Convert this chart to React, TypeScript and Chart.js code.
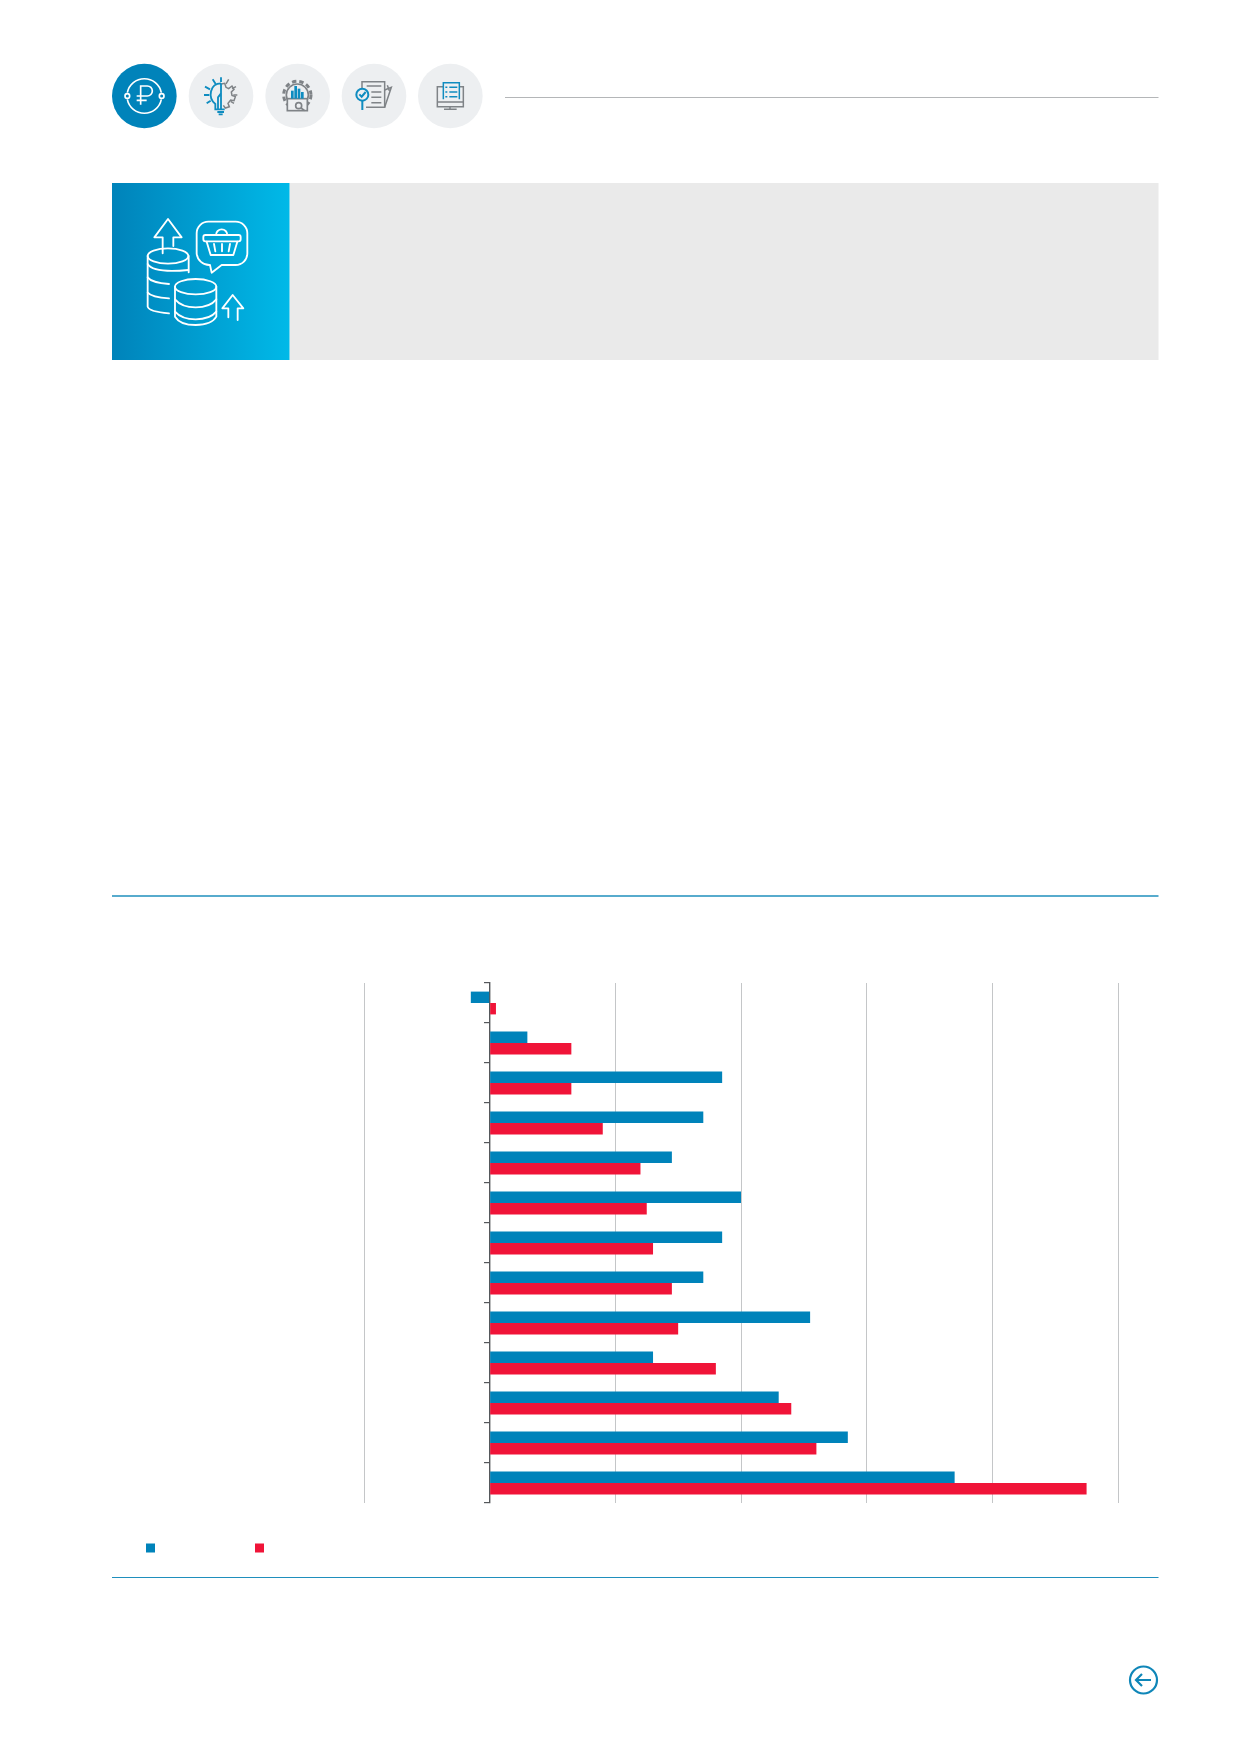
import React, { useEffect, useRef } from "react";
import { Chart, registerables } from "chart.js";

Chart.register(...registerables);

const categories = ["1", "2", "3", "4", "5", "6", "7", "8", "9", "10", "11", "12", "13"];
const blueValues = [-3, 6, 37, 34, 29, 40, 37, 34, 51, 26, 46, 57, 74];
const redValues = [1, 13, 13, 18, 24, 25, 26, 29, 30, 36, 48, 52, 95];
const BLUE = "#0083BA";
const RED = "#F01438";

function HeaderArt() {
  const W = "#ffffff";
  const G = "#7f8387";
  const B = "#0f8cc0";
  return (
    <svg width={1240} height={1754} style={{ position: "absolute", left: 0, top: 0 }}>
      <defs>
        <linearGradient id="blueGrad" x1="0" x2="1" y1="0" y2="0">
          <stop offset="0" stopColor="#0083BA" />
          <stop offset="1" stopColor="#00B9E8" />
        </linearGradient>
      </defs>
      <line x1={505} x2={1158.5} y1={97.5} y2={97.5} stroke="#b4b6b8" strokeWidth={1} />
      <rect x={289.5} y={183} width={869} height={177} fill="#EAEAEA" />
      <rect x={112} y={183} width={177.5} height={177} fill="url(#blueGrad)" />
      <line x1={112} x2={1158.5} y1={896} y2={896} stroke="#1f8fbd" strokeWidth={1.6} />
      <line x1={112} x2={1158.5} y1={1577.5} y2={1577.5} stroke="#1f8fbd" strokeWidth={1.2} />

      <g transform="translate(90,40) scale(0.33333)">
        <circle cx={163} cy={168} r={97} fill="#0083BA" />
        <circle cx={393} cy={168} r={97} fill="#EDEFF1" />
        <circle cx={623} cy={168} r={97} fill="#EDEFF1" />
        <circle cx={852} cy={168} r={97} fill="#EDEFF1" />
        <circle cx={1081} cy={168} r={97} fill="#EDEFF1" />

        {/* rouble */}
        <g fill="none" stroke={W} strokeWidth={5}>
          <path d="M112 158 A52 52 0 0 1 214 158" />
          <path d="M112 178 A52 52 0 0 0 214 178" />
          <circle cx={112} cy={168} r={7} />
          <circle cx={215} cy={168} r={7} />
          <path d="M152 194 V138 H172 A15 15 0 0 1 172 168 H140 M140 181 H170" />
        </g>

        {/* bulb */}
        <g fill="none" stroke={G} strokeWidth={4.5}>
          <path d="M416 118 L408 132 M438 140 L426 146 M442 165 H430 M432 190 L422 184" />
          <path d="M394 132 L404 130 L408 142 L416 146 L426 138 L432 148 L424 156 L426 166 L436 170 L432 182 L422 180 L414 190 L418 200 L406 204 L400 196" />
        </g>
        <g fill="none" stroke={B} strokeWidth={5.5}>
          <path d="M393 112 V126 M368 118 L377 132 M345 140 L360 148 M342 165 H358 M350 190 L362 182" />
          <path d="M393 130 C360 130 352 172 376 192 V208 H404 M393 130 V208 M384 206 V172 L393 160 M382 216 H402 M386 223 H398" />
        </g>

        {/* gear + chart */}
        <g fill="none" stroke={G} strokeWidth={5}>
          <circle cx={622} cy={165} r={41} stroke={G} strokeWidth={9} strokeDasharray="13 9" />
          <circle cx={622} cy={165} r={33} fill="#EDEFF1" />
          <rect x={592} y={176} width={60} height={36} fill="#EDEFF1" />
          <circle cx={626} cy={197} r={9} />
          <path d="M633 204 L644 212" />
        </g>
        <g fill={B}>
          <rect x={603} y={152} width={8} height={24} />
          <rect x={613} y={138} width={8} height={38} />
          <rect x={623} y={146} width={8} height={30} />
          <rect x={633} y={156} width={8} height={20} />
        </g>

        {/* document + magnifier */}
        <g fill="none" stroke={G} strokeWidth={4.5}>
          <path d="M816 145 V125 H884 V202 H828" />
          <path d="M884 150 L904 142 L884 202 M892 136 L898 152" />
          <path d="M830 138 H874 M844 156 H874 M844 172 H874 M844 188 H874" />
        </g>
        <g fill="none" stroke={B} strokeWidth={6}>
          <circle cx={817} cy={164} r={18} />
          <path d="M808 163 L815 170 L827 156 M817 182 V210" />
        </g>

        {/* monitor + checklist */}
        <g fill="none" stroke={G} strokeWidth={4.5}>
          <path d="M1060 140 H1042 V200 H1120 V140 H1110" />
          <path d="M1042 186 H1120 M1080 200 V208 M1062 208 H1100" />
        </g>
        <g fill="none" stroke={B} strokeWidth={4.5}>
          <path d="M1060 178 V128 H1108 V178" />
          <path d="M1066 142 H1072 M1078 142 H1102 M1066 156 H1072 M1078 156 H1102 M1066 170 H1072 M1078 170 H1102" />
        </g>

        {/* large icon */}
        <g fill="none" stroke={W} strokeWidth={5.5} strokeLinejoin="round" strokeLinecap="round">
          <path d="M218 640 V592 H193 L234 537 L275 592 H250 V618" />
          <ellipse cx={234} cy={648} rx={61} ry={23} />
          <path d="M296 648 V697 M173 648 V800 Q176 815 237 820" />
          <path d="M173 672 Q190 700 295 690 M173 712 Q185 728 237 732 M173 758 Q185 772 237 775" />
          <ellipse cx={317} cy={740} rx={62} ry={23} />
          <path d="M255 740 V830 Q270 855 317 855 Q365 855 379 830 V740" />
          <path d="M255 778 Q275 802 317 802 Q360 802 379 778 M255 815 Q275 838 317 838 Q360 838 379 815" />
          <path d="M415 832 V805 H397 L428 765 L460 805 H443 V840" />
          <path d="M355 545 H437 A35 35 0 0 1 472 580 V640 A35 35 0 0 1 437 675 H395 L365 698 L360 675 A38 38 0 0 1 320 640 V580 A35 35 0 0 1 355 545 Z" />
          <path d="M378 585 A17 17 0 0 1 412 585" />
          <rect x={340} y={585} width={112} height={19} rx={6} />
          <path d="M350 605 L362 645 H430 L442 605 M372 612 L376 634 M396 612 V634 M420 612 L416 634" />
        </g>
      </g>

      {/* back arrow */}
      <g fill="none" stroke="#0f86b8" strokeWidth={2.2}>
        <circle cx={1143.5} cy={1680} r={13.5} />
        <path d="M1151 1680 H1136 M1142 1674 L1136 1680 L1142 1686" />
      </g>

      {/* legend swatches */}
      <rect x={146} y={1543.5} width={9} height={9} fill={BLUE} />
      <rect x={255} y={1543.5} width={9} height={9} fill={RED} />
    </svg>
  );
}

export default function App() {
  const ref = useRef<HTMLCanvasElement>(null);
  useEffect(() => {
    const chart = new Chart(ref.current!, {
      type: "bar",
      data: {
        labels: categories,
        datasets: [
          { label: "Синий", data: blueValues, backgroundColor: BLUE, categoryPercentage: 0.57, barPercentage: 1 },
          { label: "Красный", data: redValues, backgroundColor: RED, categoryPercentage: 0.57, barPercentage: 1 },
        ],
      },
      options: {
        indexAxis: "y",
        animation: false,
        responsive: false,
        maintainAspectRatio: false,
        layout: { padding: 10 },
        plugins: { legend: { display: false }, tooltip: { enabled: false } },
        scales: {
          x: {
            min: -20,
            max: 100,
            ticks: { display: false, stepSize: 20 },
            border: { display: false },
            grid: {
              color: (c: any) => (c.tick && c.tick.value === 0 ? "rgba(0,0,0,0)" : "#c4c6c8"),
              lineWidth: 1,
              drawTicks: false,
            },
          },
          y: {
            position: { x: 0 },
            offset: true,
            ticks: { display: false },
            border: { display: true, color: "#55585b", width: 1.4 },
            grid: {
              drawOnChartArea: false,
              drawTicks: true,
              tickLength: 5,
              color: "#55585b",
              lineWidth: 1.2,
              offset: true,
            },
          },
        },
      },
    });
    return () => chart.destroy();
  }, []);
  return (
    <div style={{ position: "absolute", left: 0, top: 0, width: 1240, height: 1754, background: "#fff", overflow: "hidden" }}>
      <HeaderArt />
      <canvas
        ref={ref}
        width={774}
        height={540}
        style={{ position: "absolute", left: 354, top: 973, width: 774, height: 540 }}
      />
    </div>
  );
}
